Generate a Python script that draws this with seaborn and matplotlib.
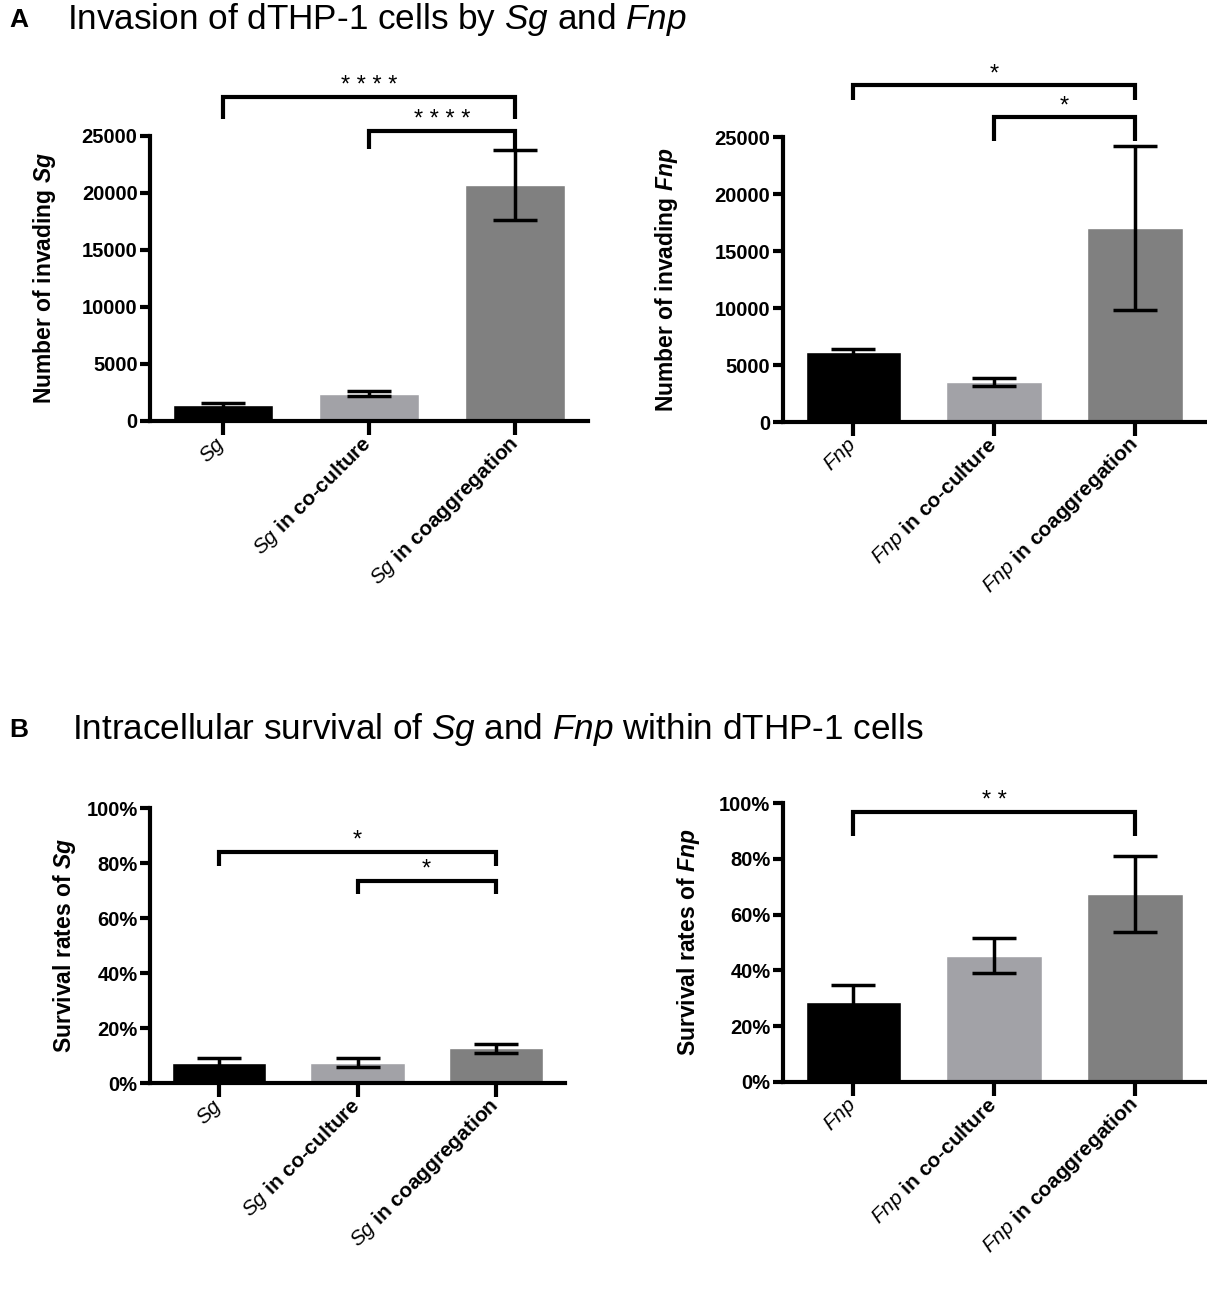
import matplotlib
matplotlib.use('Agg')
import matplotlib.pyplot as plt
import seaborn as sns
from matplotlib.ticker import FuncFormatter

sns.set_style('ticks')
plt.rcParams['font.family'] = ['Liberation Sans', 'DejaVu Sans']
plt.rcParams['mathtext.fontset'] = 'custom'
plt.rcParams['mathtext.rm'] = 'Liberation Sans'
plt.rcParams['mathtext.it'] = 'Liberation Sans:italic'
plt.rcParams['mathtext.bf'] = 'Liberation Sans:bold'
plt.rcParams['mathtext.bfit'] = 'Liberation Sans:italic:bold'
for key in ['text.color', 'axes.labelcolor', 'xtick.color', 'ytick.color', 'axes.edgecolor']:
    plt.rcParams[key] = 'black'

# categories
groups_sg = [r'$\mathit{Sg}$', r'$\mathit{Sg}$ in co-culture', r'$\mathit{Sg}$ in coaggregation']
groups_fnp = [r'$\mathit{Fnp}$', r'$\mathit{Fnp}$ in co-culture', r'$\mathit{Fnp}$ in coaggregation']
bar_colors = ['#000000', '#a2a2a7', '#808080']

# A: number of invading bacteria (mean, error)
inv_sg_mean = [1370, 2400, 20700]
inv_sg_err = [200, 250, 3070]
inv_fnp_mean = [6100, 3500, 17000]
inv_fnp_err = [330, 350, 7200]

# B: survival rates in %
surv_sg_mean = [7.2, 7.4, 12.6]
surv_sg_err = [1.8, 1.6, 1.7]
surv_fnp_mean = [28.6, 45.3, 67.3]
surv_fnp_err = [6.2, 6.4, 13.6]

# significance brackets: (from, to, bracket height, leg end, stars)
sig_inv_sg = [(0, 2, 28460, 26500, '* * * *'), (1, 2, 25450, 23890, '* * * *')]
sig_inv_fnp = [(0, 2, 29530, 28280, '*'), (1, 2, 26720, 24690, '*')]
sig_surv_sg = [(0, 2, 84.2, 79.0, '*'), (1, 2, 73.5, 68.7, '*')]
sig_surv_fnp = [(0, 2, 96.7, 88.1, '* *')]


def draw_panel(ax, groups, means, errs, ylabel, yticks, pct=False):
    sns.barplot(x=groups, y=means, hue=groups, palette=bar_colors, width=0.68,
                saturation=1, errorbar=None, legend=False, ax=ax)
    ax.errorbar(range(3), means, yerr=errs, fmt='none', ecolor='black',
                elinewidth=2.5, capsize=16, capthick=2.5, zorder=3)
    ax.set_xlim(-0.5, 2.5)
    ax.set_ylim(yticks[0], yticks[-1])
    ax.set_yticks(yticks)
    if pct:
        ax.yaxis.set_major_formatter(FuncFormatter(lambda v, p: f'{v:.0f}%'))
    for sp in ['top', 'right']:
        ax.spines[sp].set_visible(False)
    for sp in ['left', 'bottom']:
        ax.spines[sp].set_linewidth(3)
        ax.spines[sp].set_capstyle('projecting')
    ax.tick_params(axis='y', length=7, width=3, labelsize=14.5, pad=2)
    ax.tick_params(axis='x', length=10, width=3, labelsize=15, pad=4)
    for lbl in ax.get_yticklabels():
        lbl.set_fontweight('bold')
    ax.set_xticks(range(3))
    ax.set_xticklabels(groups, rotation=45, ha='right', va='center',
                       rotation_mode='anchor', fontweight='bold', fontsize=15)
    ax.set_xlabel('')
    ax.set_ylabel(ylabel, fontsize=16.5, fontweight='bold')
    ax.yaxis.label.set_va('center')


def add_brackets(ax, sigs):
    for x0, x1, top, leg, label in sigs:
        ax.plot([x0, x0, x1, x1], [leg, top, top, leg], color='black', lw=3,
                clip_on=False, solid_joinstyle='miter', solid_capstyle='butt')
        ax.annotate(label, xy=((x0 + x1) / 2, top), xytext=(0, 0),
                    textcoords='offset points', ha='center', va='bottom',
                    fontsize=17, annotation_clip=False)


fig = plt.figure(figsize=(12.07, 12.89), dpi=100)
fig.patch.set_facecolor('white')

ax1 = fig.add_axes([0.1243, 0.6734, 0.3629, 0.2211])
ax2 = fig.add_axes([0.6487, 0.6726, 0.3500, 0.2211])
ax3 = fig.add_axes([0.1243, 0.1598, 0.3438, 0.2133])
ax4 = fig.add_axes([0.6487, 0.1606, 0.3500, 0.2164])

draw_panel(ax1, groups_sg, inv_sg_mean, inv_sg_err,
           r'Number of invading $\mathbfit{Sg}$', [0, 5000, 10000, 15000, 20000, 25000])
draw_panel(ax2, groups_fnp, inv_fnp_mean, inv_fnp_err,
           r'Number of invading $\mathbfit{Fnp}$', [0, 5000, 10000, 15000, 20000, 25000])
draw_panel(ax3, groups_sg, surv_sg_mean, surv_sg_err,
           r'Survival rates of $\mathbfit{Sg}$', [0, 20, 40, 60, 80, 100], pct=True)
draw_panel(ax4, groups_fnp, surv_fnp_mean, surv_fnp_err,
           r'Survival rates of $\mathbfit{Fnp}$', [0, 20, 40, 60, 80, 100], pct=True)

ax1.yaxis.set_label_coords(-0.24, 0.5)
ax2.yaxis.set_label_coords(-0.275, 0.5)
ax3.yaxis.set_label_coords(-0.205, 0.5)
ax4.yaxis.set_label_coords(-0.224, 0.5)

add_brackets(ax1, sig_inv_sg)
add_brackets(ax2, sig_inv_fnp)
add_brackets(ax3, sig_surv_sg)
add_brackets(ax4, sig_surv_fnp)

fig.text(0.008, 0.9845, 'A', fontsize=19, fontweight='bold', va='center')
fig.text(0.0555, 0.9845, r'Invasion of dTHP-1 cells by $\mathit{Sg}$ and $\mathit{Fnp}$',
         fontsize=25.3, va='center')
fig.text(0.008, 0.4337, 'B', fontsize=19, fontweight='bold', va='center')
fig.text(0.0597, 0.4337,
         r'Intracellular survival of $\mathit{Sg}$ and $\mathit{Fnp}$ within dTHP-1 cells',
         fontsize=25.3, va='center')

fig.savefig('out.png', dpi=100, facecolor='white')
